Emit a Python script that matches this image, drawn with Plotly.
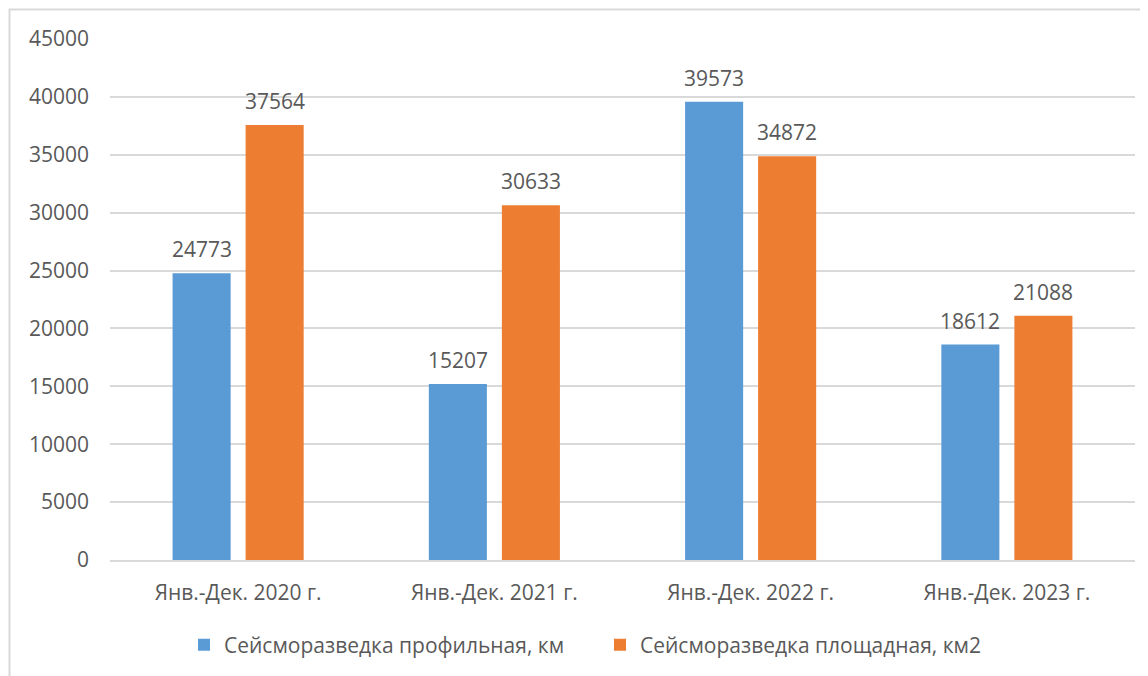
import plotly.graph_objects as go

categories = ["Янв.-Дек. 2020 г.", "Янв.-Дек. 2021 г.", "Янв.-Дек. 2022 г.", "Янв.-Дек. 2023 г."]
series_names = ["Сейсморазведка профильная, км", "Сейсморазведка площадная, км2"]
profile_km = [24773, 15207, 39573, 18612]
area_km2 = [37564, 30633, 34872, 21088]
y_ticks = [0, 5000, 10000, 15000, 20000, 25000, 30000, 35000, 40000, 45000]

FONT = "Open Sans"
GRAY_TEXT = "#595959"
GRID = "#d9d9d9"
COLORS = ["#5B9BD5", "#ED7D31"]

# page body has an 8px margin; compensate so plot area lands at (110,39)-(1135,560)
OFF = 8
W, H = 1148, 676
L, R, T, B = 110 - OFF, 13 + OFF, 39 - OFF, 116 + OFF
pw = W - L - R
ph = H - T - B

BARGAP, GROUPGAP = 0.43, 0.205
slot = (1 - BARGAP) / 2  # width of each bar slot in category units

fig = go.Figure()
series = [profile_km, area_km2]
for i, (name, vals) in enumerate(zip(series_names, series)):
    fig.add_trace(go.Bar(
        x=categories, y=vals, name=name,
        marker=dict(color=COLORS[i], line=dict(width=0)),
        hoverinfo="x+y",
    ))

annotations = []
for i, vals in enumerate(series):
    off = (i - 0.5) * slot
    for j, v in enumerate(vals):
        annotations.append(dict(
            x=j + off, y=v, xref="x", yref="y", text=str(v), showarrow=False,
            yanchor="middle", yshift=24,
            font=dict(family=FONT, size=21, color=GRAY_TEXT)))


def px_x(px):  # screen px -> paper x
    return (px - OFF - L) / pw


def px_y(py):  # screen px -> paper y
    return (H - B - (py - OFF)) / ph


fig.add_shape(type="rect", xref="paper", yref="paper",
              x0=px_x(9.5), x1=px_x(W + 30),
              y0=px_y(H + 30), y1=px_y(9.5),
              line=dict(color="#d9d9d9", width=2), layer="below")

fig.update_layout(
    width=W, height=H,
    margin=dict(l=L, r=R, t=T, b=B, autoexpand=False),
    paper_bgcolor="white", plot_bgcolor="white",
    barmode="group", bargap=BARGAP, bargroupgap=GROUPGAP,
    font=dict(family=FONT, color=GRAY_TEXT, size=20),
    annotations=annotations,
    legend=dict(orientation="h", x=px_x(184), xanchor="left", y=px_y(645), yanchor="middle",
                font=dict(family=FONT, size=21, color=GRAY_TEXT),
                itemwidth=30, tracegroupgap=0, entrywidth=371, entrywidthmode="pixels"),
    showlegend=True,
)
fig.update_yaxes(range=[0, 45000], tickvals=y_ticks, ticktext=[str(v) for v in y_ticks],
                 showgrid=True, gridcolor=GRID, gridwidth=1.5, zeroline=False,
                 showline=False, ticks="", ticklabelstandoff=20,
                 tickfont=dict(family=FONT, size=21, color=GRAY_TEXT))
fig.update_xaxes(showline=True, linecolor=GRID, linewidth=1.5, ticks="",
                 ticklabelstandoff=13,
                 tickfont=dict(family=FONT, size=21, color=GRAY_TEXT))

fig.write_html("out.html")
